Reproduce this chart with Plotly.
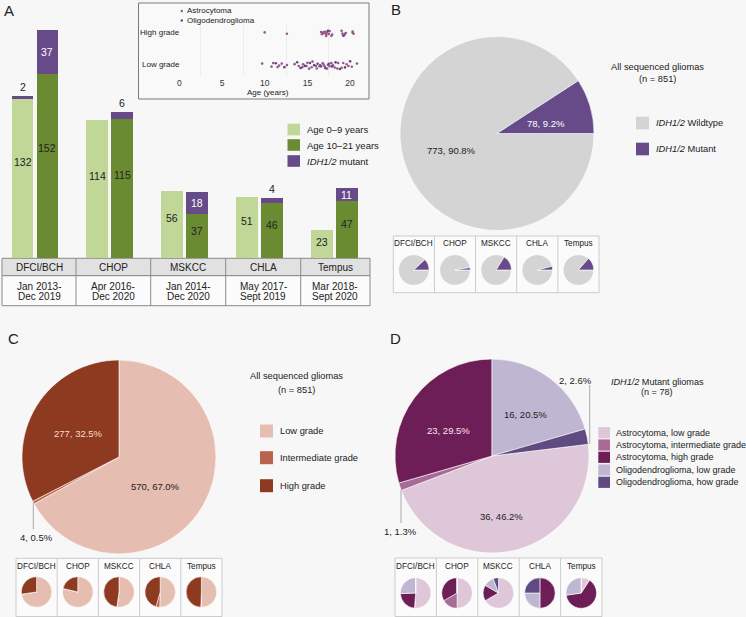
import plotly.graph_objects as go

W, H = 746, 617
FONT = "Liberation Sans, Arial, sans-serif"

# ---------------- data ----------------
sites = ["DFCI/BCH", "CHOP", "MSKCC", "CHLA", "Tempus"]
periods = [["Jan 2013-", "Dec 2019"], ["Apr 2016-", "Dec 2020"], ["Jan 2014-", "Dec 2020"],
           ["May 2017-", "Sept 2019"], ["Mar 2018-", "Sept 2020"]]
young_wt = [132, 114, 56, 51, 23]
young_mut = [2, 0, 0, 0, 0]
old_wt = [152, 115, 37, 46, 47]
old_mut = [37, 6, 18, 4, 11]

idh_labels = ["IDH1/2 Wildtype", "IDH1/2 Mutant"]
idh_total = [773, 78]

grade_labels = ["Low grade", "Intermediate grade", "High grade"]
low_grade = [235, 185, 58, 51, 41]
inter_grade = [0, 0, 0, 4, 0]
high_grade = [88, 50, 53, 46, 40]

mut_labels = ["Astrocytoma, low grade", "Astrocytoma, intermediate grade", "Astrocytoma, high grade",
              "Oligodendroglioma, low grade", "Oligodendroglioma, how grade"]
astro_low = [20, 3, 12, 0, 1]
astro_inter = [0, 1, 0, 0, 0]
astro_high = [9, 2, 3, 2, 7]
oligo_low = [10, 0, 2, 1, 3]
oligo_high = [0, 0, 1, 1, 0]

astro_high_age = [10.0, 12.6, 16.6, 16.8, 16.9, 17.0, 17.1, 17.2, 17.3, 17.5, 17.6, 17.8,
                  17.9, 16.7, 17.2, 19.0, 19.1, 19.4, 19.5, 19.3, 20.3, 20.4, 20.3]
oligo_high_age = [17.4, 19.2]
astro_low_age = [9.7, 10.8, 11.0, 11.5, 11.7, 12.0, 12.6, 13.5, 14.0, 14.4, 14.5, 14.9,
                 15.0, 15.2, 15.5, 15.6, 16.0, 16.1, 16.4, 16.5, 16.8, 16.9, 17.0, 17.3,
                 17.4, 17.6, 17.8, 18.0, 18.2, 18.5, 18.6, 19.0, 19.2, 19.6, 19.8, 20.2, 20.8]
oligo_low_age = [11.3, 12.3, 13.8, 14.2, 14.7, 15.3, 15.8, 16.2, 16.6, 17.1, 17.5, 17.9,
                 18.3, 18.8, 19.4, 20.0]

# ---------------- colours ----------------
LG, DG, PUR = "#c0d798", "#6b8b33", "#674b89"
GRAY = "#d4d4d4"
C_LOW, C_INT, C_HIGH = "#e6bdb1", "#b9624c", "#8e3a21"
D_COL = ["#dfc7da", "#a86b95", "#6e1e56", "#bfb6d2", "#5f4b82"]
ASTRO_DOT, OLIGO_DOT = "#9a5a8c", "#5e4a80"
TXT = "#222222"


def px(x):
    return x / W


def py(y):
    return 1 - y / H


fig = go.Figure()
ann = []
shapes = []


def text(x, y, s, size=10, color=TXT, xanchor="center", yanchor="middle"):
    ann.append(dict(x=px(x), y=py(y), xref="paper", yref="paper", text=s, showarrow=False,
                    xanchor=xanchor, yanchor=yanchor, font=dict(size=size, color=color, family=FONT)))


def rect(x0, y0, x1, y1, fill, line="rgba(0,0,0,0)", lw=0, layer="below"):
    shapes.append(dict(type="rect", xref="paper", yref="paper", x0=px(x0), x1=px(x1),
                       y0=py(y1), y1=py(y0), fillcolor=fill, line=dict(color=line, width=lw), layer=layer))


def line(x0, y0, x1, y1, color="#888", lw=1, layer="below"):
    shapes.append(dict(type="line", xref="paper", yref="paper", x0=px(x0), x1=px(x1),
                       y0=py(y0), y1=py(y1), line=dict(color=color, width=lw), layer=layer))


# ---------------- Panel A: bars ----------------
off, bw = 0.167, 0.29
idx = list(range(len(sites)))
yx = [i - off for i in idx]
ox = [i + off for i in idx]
for xs, vals, col in [(yx, young_wt, LG), (yx, young_mut, PUR), (ox, old_wt, DG), (ox, old_mut, PUR)]:
    fig.add_trace(go.Bar(x=xs, y=vals, width=bw, marker=dict(color=col, line=dict(width=0)),
                         hoverinfo="skip", showlegend=False, xaxis="x", yaxis="y"))

for xs, wt, mut in [(yx, young_wt, young_mut), (ox, old_wt, old_mut)]:
    for x, w, m in zip(xs, wt, mut):
        ann.append(dict(x=x, y=w * 0.6, xref="x", yref="y", text=str(w), showarrow=False,
                        font=dict(size=10.5, color=TXT, family=FONT)))
        if m >= 10:
            ann.append(dict(x=x, y=w + m / 2, xref="x", yref="y", text=str(m), showarrow=False,
                            font=dict(size=10.5, color="white", family=FONT)))
        elif m > 0:
            ann.append(dict(x=x, y=w + m, xref="x", yref="y", text=str(m), showarrow=False,
                            yanchor="bottom", yshift=1, font=dict(size=10.5, color=TXT, family=FONT)))

# table under bars
cols = [2, 76, 150.7, 225.7, 300.7, 370]
rect(2, 258.3, 370, 275.7, "#e1e1e1", "#8a8a8a", 1)
rect(2, 275.7, 370, 305.7, "#fbfbfb", "#8a8a8a", 1)
for c in cols[1:-1]:
    line(c, 258.3, c, 305.7, "#8a8a8a", 1)
for i, s in enumerate(sites):
    cx = (cols[i] + cols[i + 1]) / 2
    text(cx, 267.3, s, 10)
    text(cx, 286.3, periods[i][0], 10)
    text(cx, 296.7, periods[i][1], 10)

# legend A
for yc, col, lab in [(129.5, LG, "Age 0\u20139 years"), (145, DG, "Age 10\u201321 years"),
                     (161, PUR, "<i>IDH1/2</i> mutant")]:
    rect(287.5, yc - 5.8, 300, yc + 5.8, col)
    text(305, yc, lab, 9.5, xanchor="left")

text(8.5, 11, "A", 15)

# ---------------- inset ----------------
rect(138.5, 3, 369, 99, "#f9f9f9", "#7a7a7a", 1)
for ages, grade, col in [(astro_high_age, "High grade", ASTRO_DOT), (oligo_high_age, "High grade", OLIGO_DOT),
                         (astro_low_age, "Low grade", ASTRO_DOT), (oligo_low_age, "Low grade", OLIGO_DOT)]:
    fig.add_trace(go.Box(x=ages, y=[grade] * len(ages), orientation="h", boxpoints="all", jitter=0.6,
                         pointpos=0, width=0.45, fillcolor="rgba(0,0,0,0)",
                         line=dict(color="rgba(0,0,0,0)", width=0), marker=dict(size=2.6, color=col),
                         hoverinfo="skip", showlegend=False, xaxis="x2", yaxis="y2"))
text(182.3, 32.7, "High grade", 8, xanchor="right")
text(181.7, 64.7, "Low grade", 8, xanchor="right")
text(268, 92.7, "Age (years)", 8)
shapes.append(dict(type="circle", xref="paper", yref="paper", x0=px(180.6), x1=px(183), y0=py(12.2), y1=py(9.8),
                   fillcolor=ASTRO_DOT, line=dict(width=0)))
shapes.append(dict(type="circle", xref="paper", yref="paper", x0=px(180.6), x1=px(183), y0=py(21.7), y1=py(19.3),
                   fillcolor=OLIGO_DOT, line=dict(width=0)))
text(185, 11, "Astrocytoma", 8, xanchor="left")
text(185, 20.5, "Oligodendroglioma", 8, xanchor="left")

# ---------------- pies ----------------


def pie(values, colors, cx, cy, r, rotation=0):
    fig.add_trace(go.Pie(values=values, marker=dict(colors=colors, line=dict(color="white", width=0.6)),
                         sort=False, direction="clockwise", rotation=rotation, textinfo="none",
                         hoverinfo="skip", showlegend=False,
                         domain=dict(x=[px(cx - r), px(cx + r)], y=[py(cy + r), py(cy - r)])))


def small_table(x0, x1, y0, y1, hy, cy, values_list, colors, rotation=0):
    w = (x1 - x0) / 5
    rect(x0, y0, x1, y1, "#fbfbfb", "#cccccc", 1)
    for i in range(1, 5):
        line(x0 + i * w, y0, x0 + i * w, y1, "#cccccc", 1)
    for i, s in enumerate(sites):
        cx = x0 + (i + 0.5) * w
        text(cx, hy, s, 8.2)
        pie(values_list[i], colors, cx, cy, 15.3, rotation)


LS = 9.3  # legend / label size

# Panel B
text(396, 9, "B", 15)
pie(idh_total, [GRAY, PUR], 497, 133.5, 97, rotation=90)
text(545.7, 123.3, "78, 9.2%", 9.5, color="white")
text(451.7, 150, "773, 90.8%", 9.5)
text(657, 66.7, "All sequenced gliomas", LS)
text(657, 79.3, "(n = 851)", LS)
for yc, col, lab in [(123, GRAY, "<i>IDH1/2</i> Wildtype"), (149, PUR, "<i>IDH1/2</i> Mutant")]:
    rect(636, yc - 6.3, 649, yc + 6.3, col)
    text(653.5, yc, lab, LS, xanchor="left")
b_vals = [[young_wt[i] + old_wt[i], young_mut[i] + old_mut[i]] for i in idx]
small_table(393.3, 599, 236, 292.7, 243.3, 270, b_vals, [GRAY, PUR], rotation=90)

# Panel C
text(13, 338, "C", 15)
grade_total = [sum(low_grade), sum(inter_grade), sum(high_grade)]
pie(grade_total, [C_LOW, C_INT, C_HIGH], 119, 457, 97)
text(78.3, 433.3, "277, 32.5%", 9.5, color="#f3dcd4")
text(155.7, 486.7, "570, 67.0%", 9.5)
line(33.3, 502.7, 33.3, 529.3, "#aaaaaa", 1, "above")
text(36, 537, "4, 0.5%", 9.5)
text(296, 376, "All sequenced gliomas", LS)
text(296, 390, "(n = 851)", LS)
for yc, col, lab in zip([431, 457.7, 485.7], [C_LOW, C_INT, C_HIGH], grade_labels):
    rect(260, yc - 6.5, 273, yc + 6.5, col)
    text(278.3, yc, lab, LS, xanchor="left")
c_vals = [[low_grade[i], inter_grade[i], high_grade[i]] for i in idx]
small_table(16, 222, 558.3, 616.5, 566, 592, c_vals, [C_LOW, C_INT, C_HIGH])

# Panel D
text(395, 338, "D", 15)
d_total = [sum(astro_low), sum(astro_inter), sum(astro_high), sum(oligo_low), sum(oligo_high)]
pie(d_total, D_COL, 492, 456, 97, rotation=360 * (d_total[3] + d_total[4]) / sum(d_total))
text(448.3, 430, "23, 29.5%", 9.5, color="#f4e4ef")
text(525.7, 414.3, "16, 20.5%", 9.5)
text(501, 516, "36, 46.2%", 9.5)
line(589.7, 385, 589.7, 444, "#aaaaaa", 1, "above")
text(575, 380, "2, 2.6%", 9.5)
line(401, 490, 401, 523, "#aaaaaa", 1, "above")
text(400.7, 531.7, "1, 1.3%", 9.5)
text(657, 381.7, "<i>IDH1/2</i> Mutant gliomas", 9.1)
text(657, 391.5, "(n = 78)", 9.1)
for yc, col, lab in zip([432.7, 445, 457.3, 470, 482.3], D_COL, mut_labels):
    rect(598.3, yc - 5.6, 610, yc + 5.6, col)
    text(614.3, yc, lab, 9.0, xanchor="left")
d_vals = [[astro_low[i], astro_inter[i], astro_high[i], oligo_low[i], oligo_high[i]] for i in idx]
small_table(395, 602, 558, 616.5, 566.5, 593, d_vals, D_COL)

# ---------------- layout ----------------
x0_unit = 35.0  # pixel of first group centre
unit = 74.8
fig.update_layout(
    width=W, height=H, margin=dict(l=0, r=0, t=0, b=0),
    paper_bgcolor="#f7f7f7", plot_bgcolor="rgba(0,0,0,0)",
    barmode="stack", boxmode="overlay",
    font=dict(family=FONT, color=TXT),
    xaxis=dict(domain=[px(2), px(370)], range=[-(x0_unit - 2) / unit, (370 - x0_unit) / unit],
               visible=False, fixedrange=True),
    yaxis=dict(domain=[py(258.3), 1], range=[0, 258.3 / 1.21], visible=False, fixedrange=True),
    xaxis2=dict(domain=[px(172), px(366)], range=[(172 - 179.3) / 8.54, (366 - 179.3) / 8.54],
                anchor="y2", tickvals=[0, 5, 10, 15, 20], ticks="", showgrid=False, zeroline=False,
                showline=False, tickfont=dict(size=8.5, color="#333"),
                minor=dict(tickvals=[2.5, 7.5, 12.5, 17.5], showgrid=True, gridcolor="#ececec", gridwidth=0.7)),
    yaxis2=dict(domain=[py(76), py(25)], range=[-0.344, 1.25], anchor="x2", type="category",
                categoryorder="array", categoryarray=["Low grade", "High grade"],
                showticklabels=False, showgrid=False, zeroline=False, showline=False, ticks=""),
    annotations=ann, shapes=shapes,
)

fig.write_html("out.html", config={"displayModeBar": False},
               post_script="document.body.style.margin='0';document.body.style.overflow='hidden';")
